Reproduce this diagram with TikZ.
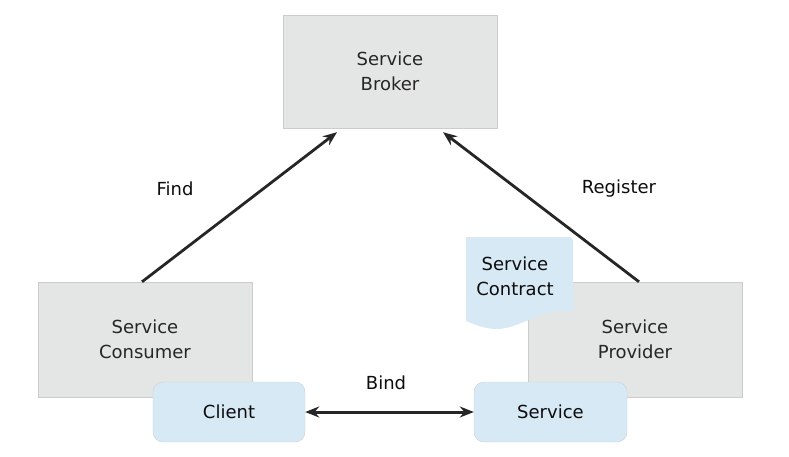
\documentclass[tikz,border=0pt]{standalone}
\usepackage{fontspec}
\setmainfont{DejaVu Sans}
\usepackage{tikz}
\usetikzlibrary{arrows.meta,shapes}
\definecolor{boxgray}{HTML}{E4E5E5}
\definecolor{boxline}{HTML}{CCCCCC}
\definecolor{partblue}{HTML}{D7E9F5}
\definecolor{partline}{HTML}{C9D2D8}

\begin{document}
\begin{tikzpicture}[x=1pt,y=-1pt,font=\fontsize{18}{25}\selectfont]
\useasboundingbox (0,0) rectangle (789,457);
\tikzstyle{role}=[rectangle,draw=boxline,fill=boxgray,text=black!85,minimum width=214pt,minimum height=115pt,align=center,inner sep=0pt]
\tikzstyle{part}=[rectangle,rounded corners=10pt,draw=partline,fill=partblue,text=black!95,minimum width=152pt,minimum height=60pt,inner sep=0pt]
\tikzstyle{flow}=[line width=2.8pt,black!85,-{Stealth[length=14pt,width=11pt]}]
%\tikzstyle{label}=[fill=white]
\node[role,minimum height=113pt] (broker) at (390,71.5) {Service\\Broker};
\node[role] (consumer) at (145,339.5) {Service\\Consumer};
\node[role] (provider) at (635,339.5) {Service\\Provider};
\node[part] (client) at (229,412) {Client};
\node[part,minimum width=153pt] (service) at (550.5,412) {Service};
% contract sheet
\fill[partblue] (466,237) -- (570,237) -- (573,240) -- (573,312)
  .. controls (545,306) and (520,329) .. (497,329)
  .. controls (484,329) and (474,324) .. (466,321) -- cycle;
\node[align=center,text=black!95] (contract) at (515,276) {Service\\Contract};
\draw[flow] ([xshift=-3pt]consumer.north) -- ([xshift=-53pt,yshift=-4pt]broker.south);
\draw[flow] ([xshift=4pt]provider.north) -- ([xshift=53pt,yshift=-4pt]broker.south);
\draw[flow,line width=3pt,{Stealth[length=14pt,width=11pt]}-{Stealth[length=14pt,width=11pt]}] (client.east) -- (service.west);
\node[text=black!95] (find) at (175,189) {Find};
\node[text=black!95] (register) at (619,189) {Register};
\node[text=black!95] (bind) at (386,383) {Bind};
\end{tikzpicture}
\end{document}
